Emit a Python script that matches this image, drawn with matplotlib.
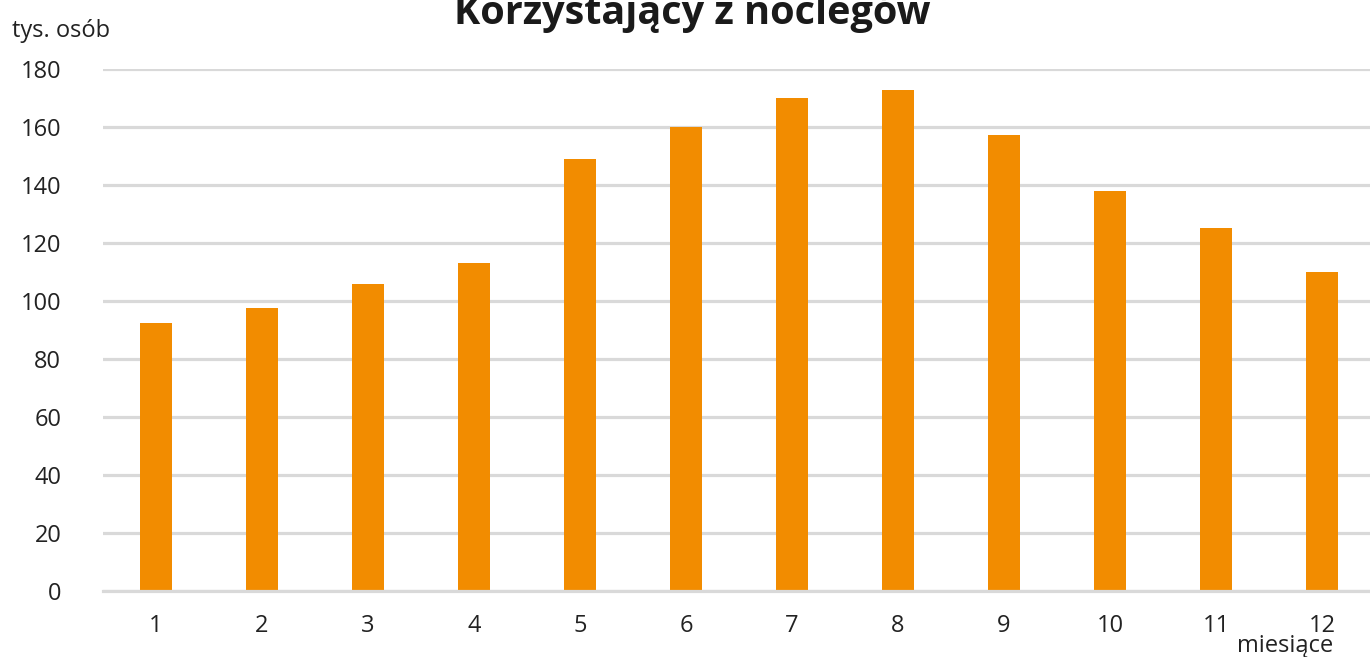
import matplotlib.pyplot as plt

# data
months = [1, 2, 3, 4, 5, 6, 7, 8, 9, 10, 11, 12]
visitors = [92.4, 97.8, 105.9, 113.1, 149.0, 160.1, 170.2, 173.0, 157.2, 138.2, 125.2, 110.0]
yticks = [0, 20, 40, 60, 80, 100, 120, 140, 160, 180]

plt.rcParams['font.family'] = ['Open Sans', 'DejaVu Sans']

fig = plt.figure(figsize=(13.7, 6.57), dpi=100)
ax = fig.add_axes([103 / 1370, 0.1, 1272 / 1370, 0.7945])

ax.bar(months, visitors, width=0.31, color='#f28c00', zorder=3)

ax.set_xlim(0.5, 12.5)
ax.set_ylim(0, 180)
ax.set_yticks(yticks)
ax.set_xticks(months)
ax.tick_params(axis='both', length=0, labelsize=17, colors='#222222')
ax.tick_params(axis='y', pad=30)
ax.tick_params(axis='x', pad=16)

ax.grid(axis='y', color='#d9d9d9', linewidth=2.3, zorder=0)
for s in ['top', 'right', 'left']:
    ax.spines[s].set_visible(False)
ax.spines['bottom'].set_color('#d9d9d9')
ax.spines['bottom'].set_linewidth(2.3)
ax.spines['bottom'].set_zorder(4)

fig.text(0.505, 0.963, 'Korzystający z noclegów', ha='center', va='baseline',
         fontsize=28.5, fontweight='bold', color='#1a1a1a')
fig.text(12 / 1370, 1 - 31 / 657, 'tys. osób', ha='left', va='center',
         fontsize=17, color='#222222')
fig.text(1333 / 1370, 1 - 646 / 657, 'miesiące', ha='right', va='center',
         fontsize=17, color='#222222')

fig.savefig('out.png', dpi=100)
